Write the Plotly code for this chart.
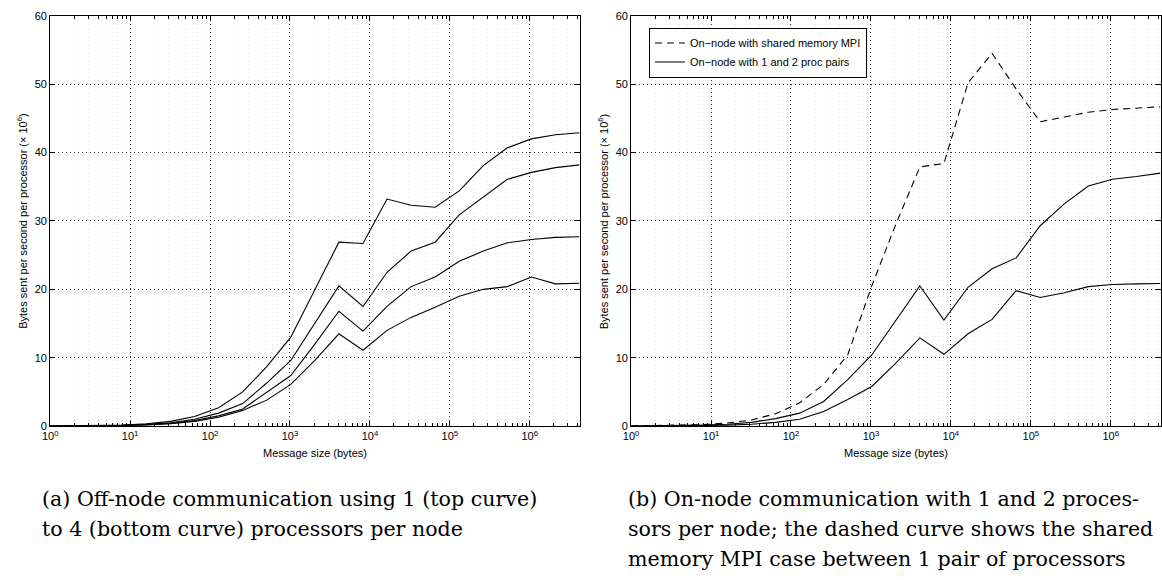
import plotly.graph_objects as go

# Message sizes in bytes (powers of two, 1 B .. 4 MB)
msg_size = [1, 2, 4, 8, 16, 32, 64, 128, 256, 512, 1024, 2048, 4096, 8192,
            16384, 32768, 65536, 131072, 262144, 524288, 1048576, 2097152, 4194304]

# (a) off-node bandwidth, 1..4 processors per node (MB/s per processor)
off_1proc = [0.02, 0.04, 0.09, 0.17, 0.35, 0.7, 1.4, 2.7, 5.0, 8.7, 13.0, 19.9,
             26.9, 26.7, 33.2, 32.3, 32.0, 34.4, 38.1, 40.7, 42.0, 42.6, 42.9]
off_2proc = [0.015, 0.03, 0.06, 0.12, 0.25, 0.5, 1.0, 1.9, 3.3, 6.3, 9.6, 15.0,
             20.5, 17.5, 22.5, 25.6, 26.9, 30.9, 33.5, 36.1, 37.1, 37.8, 38.2]
off_3proc = [0.012, 0.025, 0.05, 0.1, 0.2, 0.4, 0.8, 1.5, 2.5, 4.9, 7.4, 12.0,
             16.8, 13.9, 17.5, 20.4, 21.8, 24.1, 25.6, 26.8, 27.3, 27.6, 27.7]
off_4proc = [0.01, 0.02, 0.045, 0.09, 0.18, 0.35, 0.7, 1.3, 2.3, 3.8, 6.1, 9.6,
             13.5, 11.1, 14.0, 15.9, 17.4, 19.0, 20.0, 20.4, 21.8, 20.8, 20.9]

# (b) on-node bandwidth
on_shmem = [0.03, 0.06, 0.11, 0.22, 0.45, 0.9, 1.8, 3.4, 6.1, 10.4, 20.5, 29.5,
            37.9, 38.4, 50.2, 54.5, 49.3, 44.5, 45.2, 45.9, 46.3, 46.5, 46.7]
on_1pair = [0.02, 0.04, 0.07, 0.14, 0.28, 0.55, 1.1, 1.9, 3.6, 6.8, 10.4, 15.4,
            20.5, 15.5, 20.3, 23.0, 24.6, 29.3, 32.5, 35.1, 36.1, 36.5, 37.0]
on_2pair = [0.01, 0.02, 0.04, 0.07, 0.14, 0.28, 0.55, 1.0, 2.15, 3.9, 5.8, 9.2,
            12.9, 10.5, 13.5, 15.6, 19.8, 18.8, 19.5, 20.4, 20.7, 20.8, 20.85]

x_major = [1, 10, 100, 1000, 10000, 100000, 1000000]
x_major_text = ["10<sup>%d</sup>" % i for i in range(7)]
y_ticks = [0, 10, 20, 30, 40, 50, 60]

W, H = 1162, 580
FONT = "Liberation Sans, Arial, sans-serif"
SERIF = "DejaVu Serif, serif"

# panel placement in pixels: (left, right), shared (top, bottom)
left_px = (42.5, 576.0)
right_px = (628.0, 1161.5)
top_px, bottom_px = 10.0, 429.0

def xdom(p):
    return [p[0] / W, p[1] / W]

ydom = [1 - bottom_px / H, 1 - top_px / H]

minor_vals = [m * 10 ** d for d in range(7) for m in range(2, 10) if m * 10 ** d < 4194304]

fig = go.Figure()

line_solid = dict(color="black", width=1.1)
line_dash = dict(color="black", width=1.1, dash="7px,5px")

for ys in (off_1proc, off_2proc, off_3proc, off_4proc):
    fig.add_trace(go.Scatter(x=msg_size, y=ys, mode="lines", line=line_solid,
                             showlegend=False, xaxis="x", yaxis="y"))

fig.add_trace(go.Scatter(x=msg_size, y=on_shmem, mode="lines", line=line_dash,
                         name="On\u2212node with shared memory MPI",
                         xaxis="x2", yaxis="y2"))
fig.add_trace(go.Scatter(x=msg_size, y=on_1pair, mode="lines", line=line_solid,
                         name="On\u2212node with 1 and 2 proc pairs",
                         xaxis="x2", yaxis="y2"))
fig.add_trace(go.Scatter(x=msg_size, y=on_2pair, mode="lines", line=line_solid,
                         showlegend=False, xaxis="x2", yaxis="y2"))

xaxis_common = dict(
    type="log", range=[0, 6.6227], tickmode="array", tickvals=x_major,
    ticktext=x_major_text, ticks="inside", ticklen=5, tickcolor="black",
    showline=True, linecolor="black", linewidth=1, mirror="allticks",
    showgrid=True, gridcolor="#333333", griddash="1px,3px", gridwidth=1,
    tickfont=dict(family=FONT, size=11, color="black"), zeroline=False,
    minor=dict(tickmode="array", tickvals=minor_vals, ticks="inside", ticklen=3,
               tickcolor="black", showgrid=True, gridcolor="#e4e4e4",
               griddash="1px,3px", gridwidth=1),
)
yaxis_common = dict(
    range=[0, 60], tickmode="array", tickvals=y_ticks, ticks="inside", ticklen=5,
    tickcolor="black", showline=True, linecolor="black", linewidth=1,
    mirror="allticks", showgrid=True, gridcolor="#333333", griddash="1px,3px",
    gridwidth=1, tickfont=dict(family=FONT, size=11, color="black"), zeroline=False,
)

fig.update_layout(
    width=W, height=H, margin=dict(l=0, r=0, t=0, b=0),
    paper_bgcolor="white", plot_bgcolor="white",
    xaxis=dict(domain=xdom(left_px), anchor="y", **xaxis_common),
    yaxis=dict(domain=ydom, anchor="x", **yaxis_common),
    xaxis2=dict(domain=xdom(right_px), anchor="y2", **xaxis_common),
    yaxis2=dict(domain=ydom, anchor="x2", **yaxis_common),
    legend=dict(x=646 / W, y=1 - 22 / H, xanchor="left", yanchor="top",
                bgcolor="white", bordercolor="black", borderwidth=1,
                font=dict(family=FONT, size=11, color="black"),
                tracegroupgap=0, itemwidth=30),
    showlegend=True,
)

annotations = []
ytitle = "Bytes sent per second per processor (\u00d7 10<sup>6</sup>)"
for xp, p in ((14, left_px), (600, right_px)):
    annotations.append(dict(text=ytitle, x=xp / W, y=1 - (top_px + bottom_px) / 2 / H,
                            xref="paper", yref="paper", textangle=-90, showarrow=False,
                            font=dict(family=FONT, size=11, color="black"),
                            xanchor="center", yanchor="middle"))
    annotations.append(dict(text="Message size (bytes)", x=(p[0] + p[1]) / 2 / W,
                            y=1 - 456 / H, xref="paper", yref="paper", showarrow=False,
                            font=dict(family=FONT, size=11, color="black"),
                            xanchor="center", yanchor="middle"))

caption_a = ["(a) Off-node communication using 1 (top curve)",
             "to 4 (bottom curve) processors per node"]
caption_b = ["(b) On-node communication with 1 and 2 proces-",
             "sors per node; the dashed curve shows the shared",
             "memory MPI case between 1 pair of processors"]
for lines, x0 in ((caption_a, 32), (caption_b, 623)):
    for i, t in enumerate(lines):
        annotations.append(dict(text=t, x=x0 / W, y=1 - (503 + 31 * i) / H,
                                xref="paper", yref="paper", showarrow=False,
                                font=dict(family=SERIF, size=20.6, color="black"),
                                xanchor="left", yanchor="middle"))

fig.update_layout(annotations=annotations)

fig.write_html("out.html")
